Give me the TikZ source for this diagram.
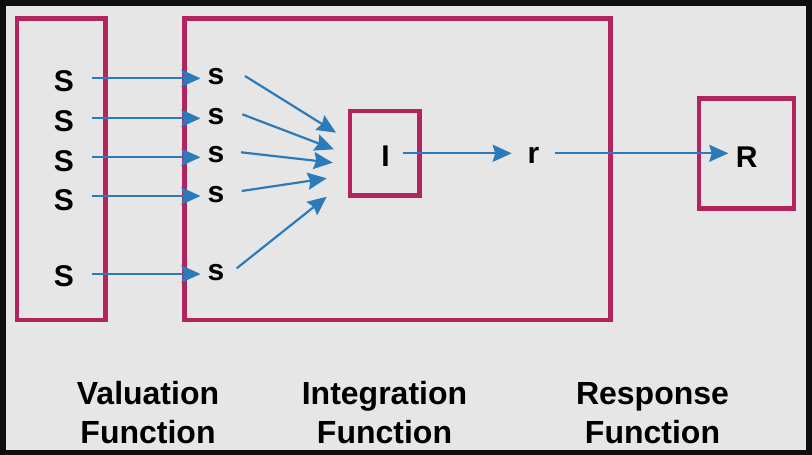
\documentclass[tikz,border=0pt]{standalone}
\usepackage{fontspec}
\setmainfont{Liberation Sans}
\usetikzlibrary{arrows.meta}
\definecolor{framecol}{RGB}{14,14,14}
\definecolor{bgcol}{RGB}{230,230,230}
\definecolor{magcol}{RGB}{178,36,94}
\definecolor{arrcol}{RGB}{43,123,186}
\tikzset{
  boxshape/.style={draw=magcol, line width=4.8pt, inner sep=0pt},
  arr/.style={draw=arrcol, line width=2.2pt, -{Stealth[length=19pt,width=17pt,inset=2.5pt]}},
  sym/.style={font=\fontsize{30}{36}\selectfont\bfseries, inner sep=0pt, anchor=base},
  caption/.style={font=\fontsize{32}{38.5}\selectfont\bfseries, inner sep=0pt, anchor=base, align=center}
}
\begin{document}
\begin{tikzpicture}[x=1pt,y=-1pt]
\fill[framecol] (0,0) rectangle (812,455);
\fill[bgcol] (6,6) rectangle (806,450);
\useasboundingbox (0,0) rectangle (812,455);

% boxes
\node[boxshape, minimum width=88.5pt, minimum height=301.5pt] (val) at (61.25,169.25) {};
\node[boxshape, minimum width=426pt, minimum height=301.5pt] (integ) at (397.5,169.25) {};
\node[boxshape, minimum width=69.5pt, minimum height=84.5pt] (ibox) at (384.75,153.25) {};
\node[boxshape, minimum width=95pt, minimum height=110pt] (rbox) at (746.5,153.4) {};

% left S
\node[sym] (S1) at (64,91.7) {S};
\node[sym] (S2) at (64,131.7) {S};
\node[sym] (S3) at (64,171.5) {S};
\node[sym] (S4) at (64,210) {S};
\node[sym] (S5) at (64,286.7) {S};

% small s
\node[sym] (s1) at (216,84.3) {s};
\node[sym] (s2) at (216,124) {s};
\node[sym] (s3) at (216,162.7) {s};
\node[sym] (s4) at (216,202.7) {s};
\node[sym] (s5) at (216,280.7) {s};

\node[sym] (I) at (385.5,166.7) {I};
\node[sym] (r) at (533.5,163.3) {r};
\node[sym] (R) at (746.7,167.3) {R};

% arrow end points
\coordinate (a1) at (91.7,78.3);  \coordinate (b1) at (200.5,78.3);
\coordinate (a2) at (91.7,118.3); \coordinate (b2) at (200.5,118.3);
\coordinate (a3) at (91.7,157.3); \coordinate (b3) at (200.5,157.3);
\coordinate (a4) at (91.7,196);   \coordinate (b4) at (200.5,196);
\coordinate (a5) at (91.7,274);   \coordinate (b5) at (200.5,274);

\coordinate (c1) at (245,76);     \coordinate (d1) at (336,132.7);
\coordinate (c2) at (242.3,114.3);\coordinate (d2) at (334,149.3);
\coordinate (c3) at (241,152.3);  \coordinate (d3) at (332.7,162.7);
\coordinate (c4) at (241.7,191);  \coordinate (d4) at (326.7,178.3);
\coordinate (c5) at (236.7,268.3);\coordinate (d5) at (326.7,196.7);

\coordinate (e1) at (403.3,153.3); \coordinate (f1) at (511.7,153.3);
\coordinate (e2) at (555,153.3);   \coordinate (f2) at (728.3,153.3);

\foreach \i in {1,...,5} {
  \draw[arr] (a\i) -- (b\i);
  \draw[arr] (c\i) -- (d\i);
}
\draw[arr] (e1) -- (f1);
\draw[arr] (e2) -- (f2);

% captions
\node[caption] (cv) at (148,443) {Valuation\\Function};
\node[caption] (ci) at (384.5,443) {Integration\\Function};
\node[caption] (cr) at (652.5,443) {Response\\Function};
\end{tikzpicture}
\end{document}
